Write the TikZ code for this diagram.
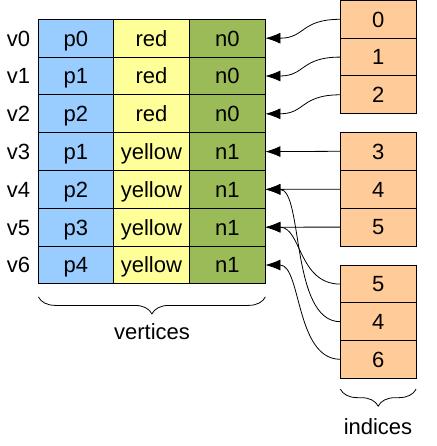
\documentclass[tikz,border=0pt]{standalone}
\usepackage{fontspec}
\setmainfont{Liberation Sans}
\usetikzlibrary{arrows.meta,decorations.pathreplacing}
\definecolor{cblue}{HTML}{99CCFF}
\definecolor{cyellow}{HTML}{FFFF99}
\definecolor{cgreen}{HTML}{9BBB59}
\definecolor{corange}{HTML}{FFCC99}
\begin{document}
\begin{tikzpicture}[x=1pt,y=-1pt,
  font=\fontsize{22}{24}\selectfont,
  txt/.style={text height=15.75pt, text depth=0pt},
  cell/.style={txt, draw=black, line width=0.9pt, inner sep=0pt, outer sep=0pt, minimum height=37.8pt},
  bcell/.style={cell, fill=cblue, minimum width=75pt},
  ycell/.style={cell, fill=cyellow, minimum width=76pt},
  gcell/.style={cell, fill=cgreen, minimum width=76pt},
  icell/.style={cell, fill=corange, minimum width=75.7pt, minimum height=37.7pt},
  lbl/.style={txt, inner sep=0pt},
  conn/.style={line width=0.8pt, -{Latex[length=15pt,width=11pt]}},
  brace/.style={decorate, decoration={brace, mirror, amplitude=17pt}, line width=0.8pt}]
\useasboundingbox (0,0) rectangle (436,446);
% vertices table
\foreach \i/\p/\c/\n in {0/p0/red/n0,1/p1/red/n0,2/p2/red/n0,3/p1/yellow/n1,4/p2/yellow/n1,5/p3/yellow/n1,6/p4/yellow/n1}{
  \pgfmathsetmacro{\yy}{19.3+37.8*(\i+0.5)}
  \node[lbl] (l\i) at (18.5,\yy) {v\i};
  \node[bcell] (b\i) at (75.9,\yy) {\p};
  \node[ycell] (y\i) at (151.4,\yy) {\c};
  \node[gcell] (g\i) at (227.4,\yy) {\n};
}
% index boxes
\foreach \k/\t/\yy in {0/0/19.3,1/1/57.1,2/2/94.8,3/3/151.3,4/4/189.2,5/5/227.1,6/5/284.1,7/4/321.7,8/6/359.3}{
  \node[icell] (i\k) at (378.2,\yy) {\t};
}
% connectors
\draw[conn] (i0.west) .. controls +(-40,0) and +(40,0) .. (g0.east);
\draw[conn] (i1.west) .. controls +(-40,0) and +(40,0) .. (g1.east);
\draw[conn] (i2.west) .. controls +(-40,0) and +(40,0) .. (g2.east);
\draw[conn] (i3.west) -- (g3.east);
\draw[conn] (i4.west) -- (g4.east);
\draw[conn] (i5.west) -- (g5.east);
\draw[conn] (i6.west) .. controls +(-42,0) and +(36,0) .. (g5.east);
\draw[conn] (i7.west) .. controls +(-50,0) and +(38,0) .. (g4.east);
\draw[conn] (i8.west) .. controls +(-45,0) and +(36,0) .. (g6.east);
% braces
\draw[brace] ([yshift=-13pt]b6.south west) -- ([yshift=-13pt]g6.south east);
\node[lbl] (vert) at (152,331.4) {vertices};
\draw[brace] ([yshift=-11pt]i8.south west) -- ([yshift=-11pt]i8.south east);
\node[lbl] (ind) at (378,426.4) {indices};
\end{tikzpicture}
\end{document}
